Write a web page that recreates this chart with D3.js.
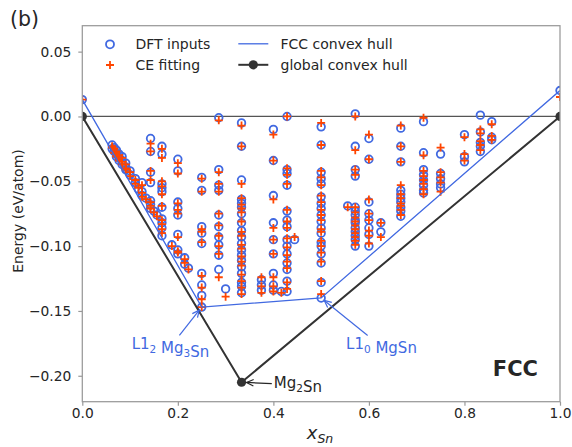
<!DOCTYPE html>
<html>
<head>
<meta charset="utf-8">
<script src="https://cdn.jsdelivr.net/npm/d3@7"></script>
<style>
  body { margin: 0; background: #fff; }
  svg { display: block; font-family: "DejaVu Sans", sans-serif; }
</style>
</head>
<body>
<svg id="chart" width="572" height="447"></svg>
<script>
// Sn fraction of every enumerated FCC structure (grouped by composition)
const xSn = [
  0,
  0.0625,0.0625,0.0667,0.0667,0.0714,0.0714,0.0714,0.0769,0.0769,0.0769,
  0.0833,0.0833,0.0833,0.0909,0.0909,0.0909,0.1,0.1,0.1111,0.1111,
  0.125,0.1176,0.125,0.125,0.1333,0.1429,0.1429,0.1429,0.15,0.1563,
  0.1429,0.1429,0.1429,0.1429,
  0.1667,0.1667,0.1667,0.1667,0.1667,0.1667,0.1667,0.1667,0.1667,0.1667,
  0.2,0.2,0.2,0.2,0.2,0.2,
  0.1875,0.2,0.2,0.2143,0.2143,0.2222,
  0.25,0.25,0.25,0.25,0.25,0.25,0.25,0.25,0.25,
  0.2857,0.2857,0.2857,0.2857,0.2857,0.2857,0.2857,0.2857,0.2857,0.2857,
  0.3,
  0.3333,0.3333,0.3333,0.3333,0.3333,0.3333,0.3333,0.3333,0.3333,0.3333,0.3333,0.3333,0.3333,0.3333,0.3333,0.3333,0.3333,0.3333,0.3333,
  0.375,0.375,0.375,
  0.4,0.4,0.4,0.4,0.4,0.4,0.4,0.4,0.4,
  0.4167,
  0.4286,0.4286,0.4286,0.4286,0.4286,0.4286,0.4286,0.4286,0.4286,0.4286,0.4286,0.4286,0.4286,0.4286,
  0.4444,
  0.5,0.5,0.5,0.5,0.5,0.5,0.5,0.5,0.5,0.5,0.5,0.5,0.5,0.5,0.5,0.5,0.5,0.5,
  0.5556,
  0.5714,0.5714,0.5714,0.5714,0.5714,0.5714,0.5714,0.5714,0.5714,0.5714,0.5714,0.5714,0.5714,0.5714,
  0.6,0.6,0.6,0.6,0.6,0.6,0.6,0.6,
  0.625,0.625,
  0.6667,0.6667,0.6667,0.6667,0.6667,0.6667,0.6667,0.6667,0.6667,0.6667,
  0.7143,0.7143,0.7143,0.7143,0.7143,0.7143,0.7143,0.7143,
  0.75,0.75,0.75,0.75,0.75,
  0.8,0.8,0.8,
  0.8333,0.8333,0.8333,0.8333,0.8333,
  0.8571,0.8571,0.8571,
  1
];

// formation energies from DFT (eV/atom), same order as xSn
const eDFT = [
  0.013,
  -0.022,-0.025,-0.024,-0.027,-0.026,-0.029,-0.031,-0.029,-0.032,-0.034,
  -0.031,-0.034,-0.037,-0.036,-0.039,-0.041,-0.042,-0.045,-0.048,-0.051,
  -0.051,-0.056,-0.058,-0.061,-0.063,-0.065,-0.068,-0.071,-0.073,-0.076,
  -0.017,-0.027,-0.043,-0.051,
  -0.023,-0.029,-0.052,-0.055,-0.058,-0.070,-0.079,-0.082,-0.086,-0.092,
  -0.033,-0.042,-0.066,-0.071,-0.076,-0.091,
  -0.099,-0.103,-0.106,-0.109,-0.114,-0.117,
  -0.047,-0.057,-0.085,-0.090,-0.098,-0.121,-0.130,-0.138,-0.147,
  -0.001,-0.041,-0.053,-0.057,-0.076,-0.085,-0.093,-0.099,-0.107,-0.118,
  -0.133,
  -0.005,-0.023,-0.049,-0.064,-0.067,-0.070,-0.075,-0.082,-0.088,-0.093,-0.098,-0.103,-0.107,-0.111,-0.116,-0.121,-0.128,-0.131,-0.136,
  -0.126,-0.130,-0.134,
  -0.010,-0.034,-0.061,-0.082,-0.095,-0.106,-0.121,-0.130,-0.134,
  -0.135,
  0.000,-0.041,-0.044,-0.053,-0.073,-0.080,-0.085,-0.095,-0.100,-0.106,-0.113,-0.118,-0.127,-0.135,
  -0.095,
  -0.008,-0.022,-0.043,-0.048,-0.052,-0.062,-0.067,-0.071,-0.076,-0.081,-0.086,-0.090,-0.097,-0.100,-0.106,-0.113,-0.128,-0.140,
  -0.069,
  0.002,-0.023,-0.041,-0.046,-0.070,-0.073,-0.076,-0.080,-0.082,-0.086,-0.089,-0.092,-0.095,-0.100,
  -0.017,-0.033,-0.066,-0.075,-0.080,-0.086,-0.091,-0.100,
  -0.082,-0.089,
  -0.009,-0.023,-0.035,-0.057,-0.060,-0.063,-0.066,-0.070,-0.073,-0.077,
  -0.004,-0.028,-0.041,-0.045,-0.049,-0.053,-0.057,-0.059,
  -0.029,-0.044,-0.048,-0.052,-0.055,
  -0.014,-0.031,-0.035,
  0.001,-0.012,-0.020,-0.023,-0.027,
  -0.004,-0.016,-0.018,
  0.020
];

// cluster-expansion fitted energies (eV/atom), same order as xSn
const eCE = [
  0.013,
  -0.023,-0.024,-0.025,-0.028,-0.027,-0.030,-0.031,-0.030,-0.033,-0.034,
  -0.032,-0.035,-0.037,-0.037,-0.040,-0.041,-0.043,-0.046,-0.049,-0.052,
  -0.053,-0.055,-0.059,-0.062,-0.064,-0.066,-0.069,-0.071,-0.074,-0.077,
  -0.021,-0.027,-0.042,-0.049,
  -0.025,-0.032,-0.050,-0.054,-0.060,-0.069,-0.080,-0.083,-0.087,-0.090,
  -0.036,-0.044,-0.067,-0.072,-0.075,-0.093,
  -0.100,-0.104,-0.105,-0.110,-0.113,-0.118,
  -0.048,-0.058,-0.087,-0.089,-0.097,-0.123,-0.132,-0.141,-0.147,
  -0.003,-0.043,-0.052,-0.058,-0.075,-0.084,-0.092,-0.100,-0.106,-0.124,
  -0.139,
  -0.007,-0.023,-0.052,-0.063,-0.068,-0.071,-0.074,-0.081,-0.089,-0.092,-0.099,-0.102,-0.108,-0.112,-0.115,-0.122,-0.127,-0.132,-0.137,
  -0.124,-0.131,-0.136,
  -0.014,-0.034,-0.064,-0.086,-0.095,-0.106,-0.124,-0.131,-0.135,
  -0.136,
  0.000,-0.040,-0.045,-0.052,-0.072,-0.081,-0.086,-0.094,-0.101,-0.107,-0.112,-0.117,-0.128,-0.133,
  -0.093,
  -0.005,-0.022,-0.042,-0.047,-0.053,-0.061,-0.066,-0.072,-0.076,-0.080,-0.087,-0.089,-0.096,-0.100,-0.105,-0.112,-0.127,-0.137,
  -0.070,
  0.000,-0.026,-0.041,-0.045,-0.070,-0.074,-0.078,-0.081,-0.084,-0.087,-0.090,-0.093,-0.096,-0.099,
  -0.014,-0.033,-0.064,-0.075,-0.080,-0.088,-0.092,-0.098,
  -0.082,-0.093,
  -0.007,-0.023,-0.035,-0.053,-0.060,-0.063,-0.067,-0.069,-0.072,-0.076,
  -0.001,-0.030,-0.042,-0.046,-0.049,-0.052,-0.056,-0.060,
  -0.024,-0.043,-0.047,-0.051,-0.058,
  -0.016,-0.029,-0.034,
  -0.010,-0.013,-0.019,-0.022,-0.026,
  -0.006,-0.015,-0.018,
  0.015
];

// FCC-only convex hull vertices
const fccHullX = [0, 0.25, 0.5, 1];
const fccHullE = [0.013, -0.147, -0.140, 0.020];
// global convex hull vertices (pure Mg, Mg2Sn, pure Sn)
const globalHullX = [0, 1 / 3, 1];
const globalHullE = [0, -0.205, 0];

const xTicks = [0, 0.2, 0.4, 0.6, 0.8, 1.0];
const yTicks = [-0.20, -0.15, -0.10, -0.05, 0.00, 0.05];
const legendLabels = ["DFT inputs", "CE fitting", "FCC convex hull", "global convex hull"];

if (xSn.length !== eDFT.length || xSn.length !== eCE.length) {
  throw new Error("data length mismatch: " + xSn.length + " " + eDFT.length + " " + eCE.length);
}

const BLUE = "#4169e1", RED = "#ff4500", HULL = "#333333", FRAME = "#999999", TEXT = "#262626";

const svg = d3.select("#chart");
const plotLeft = 82.3, plotRight = 560, plotTop = 25.7, plotBottom = 401.7;

const x = d3.scaleLinear().domain([0, 1]).range([plotLeft, plotRight]);
const y = d3.scaleLinear().domain([-0.22, 0.07]).range([plotBottom, plotTop]);

svg.append("defs").append("clipPath").attr("id", "plot-clip")
  .append("rect").attr("x", plotLeft).attr("y", plotTop)
  .attr("width", plotRight - plotLeft).attr("height", plotBottom - plotTop);

// axes
const xAxis = d3.axisBottom(x).tickValues(xTicks).tickFormat(d3.format(".1f"))
  .tickSize(4).tickPadding(3);
const yAxis = d3.axisLeft(y).tickValues(yTicks).tickFormat(d3.format(".2f"))
  .tickSize(4).tickPadding(7);

function styleAxis(g) {
  g.select(".domain").remove();
  g.selectAll(".tick line").attr("stroke", FRAME).attr("stroke-width", 1.2);
  g.selectAll(".tick text").attr("fill", TEXT).attr("font-size", 13.8)
    .attr("font-family", "DejaVu Sans");
}
svg.append("g").attr("transform", `translate(0,${plotBottom})`).call(xAxis).call(styleAxis);
svg.append("g").attr("transform", `translate(${plotLeft},0)`).call(yAxis).call(styleAxis);

const plot = svg.append("g").attr("clip-path", "url(#plot-clip)");

// zero-energy reference line
plot.append("line")
  .attr("x1", plotLeft).attr("x2", plotRight).attr("y1", y(0)).attr("y2", y(0))
  .attr("stroke", "#555").attr("stroke-width", 1.3);

const idx = d3.range(xSn.length);

// DFT inputs: open circles
plot.append("g").selectAll("circle").data(idx).join("circle")
  .attr("cx", i => x(xSn[i])).attr("cy", i => y(eDFT[i])).attr("r", 3.8)
  .attr("fill", "none").attr("stroke", BLUE).attr("stroke-width", 1.8);

// CE fitting: plus markers
const plusPath = (cx, cy, s) => `M${cx - s},${cy}H${cx + s}M${cx},${cy - s}V${cy + s}`;
plot.append("g").selectAll("path").data(idx).join("path")
  .attr("d", i => plusPath(x(xSn[i]), y(eCE[i]), 4))
  .attr("fill", "none").attr("stroke", RED).attr("stroke-width", 1.8);

// FCC convex hull
const line = d3.line().x(d => x(d[0])).y(d => y(d[1]));
plot.append("path").datum(fccHullX.map((v, i) => [v, fccHullE[i]]))
  .attr("d", line).attr("fill", "none").attr("stroke", BLUE).attr("stroke-width", 1.3);

// global convex hull with vertices
const gh = globalHullX.map((v, i) => [v, globalHullE[i]]);
plot.append("path").datum(gh)
  .attr("d", line).attr("fill", "none").attr("stroke", HULL).attr("stroke-width", 2);
plot.append("g").selectAll("circle").data(gh).join("circle")
  .attr("cx", d => x(d[0])).attr("cy", d => y(d[1])).attr("r", 4.6).attr("fill", HULL);

// frame
svg.append("rect").attr("x", plotLeft).attr("y", plotTop)
  .attr("width", plotRight - plotLeft).attr("height", plotBottom - plotTop)
  .attr("fill", "none").attr("stroke", FRAME).attr("stroke-width", 1.25);

// annotation arrows
function arrow(x0, y0, x1, y1, color, shrinkStart, shrinkEnd) {
  const dx = x1 - x0, dy = y1 - y0, L = Math.hypot(dx, dy), ux = dx / L, uy = dy / L;
  const sx = x0 + ux * shrinkStart, sy = y0 + uy * shrinkStart;
  const ex = x1 - ux * shrinkEnd, ey = y1 - uy * shrinkEnd;
  const hl = 7, hw = 3.3;
  const bx = ex - ux * hl, by = ey - uy * hl;
  const g = svg.append("g").attr("stroke", color).attr("stroke-width", 1.2).attr("fill", "none");
  g.append("line").attr("x1", sx).attr("y1", sy).attr("x2", ex).attr("y2", ey);
  g.append("path").attr("d",
    `M${bx - uy * hw},${by + ux * hw}L${ex},${ey}L${bx + uy * hw},${by - ux * hw}`);
}

function chemLabel(xPos, yPos, parts, color, anchor) {
  const t = svg.append("text").attr("x", xPos).attr("y", yPos)
    .attr("fill", color).attr("font-size", 15).attr("text-anchor", anchor);
  parts.forEach(p => {
    if (p.sub) {
      t.append("tspan").attr("font-size", 10.5).attr("dy", 4).text(p.sub);
      t.append("tspan").attr("dy", -4).text("");
    } else {
      t.append("tspan").text(p.t);
    }
  });
  return t;
}

// L1_2 Mg3Sn
arrow(x(0.202), y(-0.1694), x(fccHullX[1]), y(fccHullE[1]), BLUE, 1, 4);
chemLabel(x(0.1846), y(-0.1795), [{t: "L1"}, {sub: "2"}, {t: " Mg"}, {sub: "3"}, {t: "Sn"}], BLUE, "middle");

// L1_0 MgSn
arrow(x(0.599), y(-0.1694), x(fccHullX[2]), y(fccHullE[2]), BLUE, 1, 4);
chemLabel(x(0.6263), y(-0.1795), [{t: "L1"}, {sub: "0"}, {t: " MgSn"}], BLUE, "middle");

// Mg2Sn ground state
arrow(x(0.3967), y(-0.206), x(globalHullX[1]), y(globalHullE[1]), TEXT, 0, 5);
chemLabel(x(0.401), y(-0.2093), [{t: "Mg"}, {sub: "2"}, {t: "Sn"}], TEXT, "start");

// phase tag
svg.append("text").attr("x", 538).attr("y", 376).attr("text-anchor", "end")
  .attr("font-size", 21).attr("font-weight", "bold").attr("fill", TEXT).text("FCC");

// panel letter
svg.append("text").attr("x", 10).attr("y", 25.5).attr("font-size", 20.5)
  .attr("fill", TEXT).text("(b)");

// axis titles
svg.append("text").attr("transform", "translate(23,211) rotate(-90)")
  .attr("text-anchor", "middle").attr("font-size", 14).attr("fill", TEXT)
  .text("Energy (eV/atom)");
const xl = svg.append("text").attr("x", 320).attr("y", 439).attr("text-anchor", "middle")
  .attr("fill", TEXT).attr("font-style", "italic").attr("font-size", 18);
xl.append("tspan").text("x");
xl.append("tspan").attr("font-size", 12.5).attr("dy", 4).text("Sn");

// legend
const lg = svg.append("g").attr("font-size", 14).attr("fill", TEXT);
lg.append("circle").attr("cx", 110).attr("cy", 44.3).attr("r", 4)
  .attr("fill", "none").attr("stroke", BLUE).attr("stroke-width", 1.8);
lg.append("path").attr("d", plusPath(110, 65, 4))
  .attr("stroke", RED).attr("stroke-width", 1.8);
lg.append("line").attr("x1", 238.3).attr("x2", 268.3).attr("y1", 43.8).attr("y2", 43.8)
  .attr("stroke", BLUE).attr("stroke-width", 1.3);
lg.append("line").attr("x1", 238.3).attr("x2", 268.3).attr("y1", 64.8).attr("y2", 64.8)
  .attr("stroke", HULL).attr("stroke-width", 2);
lg.append("circle").attr("cx", 253.3).attr("cy", 64.8).attr("r", 4.6).attr("fill", HULL);
const legendPos = [[135.5, 44.3], [135.5, 64.8], [280.5, 43.8], [280.5, 64.8]];
legendLabels.forEach((lab, i) => {
  lg.append("text").attr("x", legendPos[i][0]).attr("y", legendPos[i][1])
    .attr("dy", "0.36em").text(lab);
});
</script>
</body>
</html>
